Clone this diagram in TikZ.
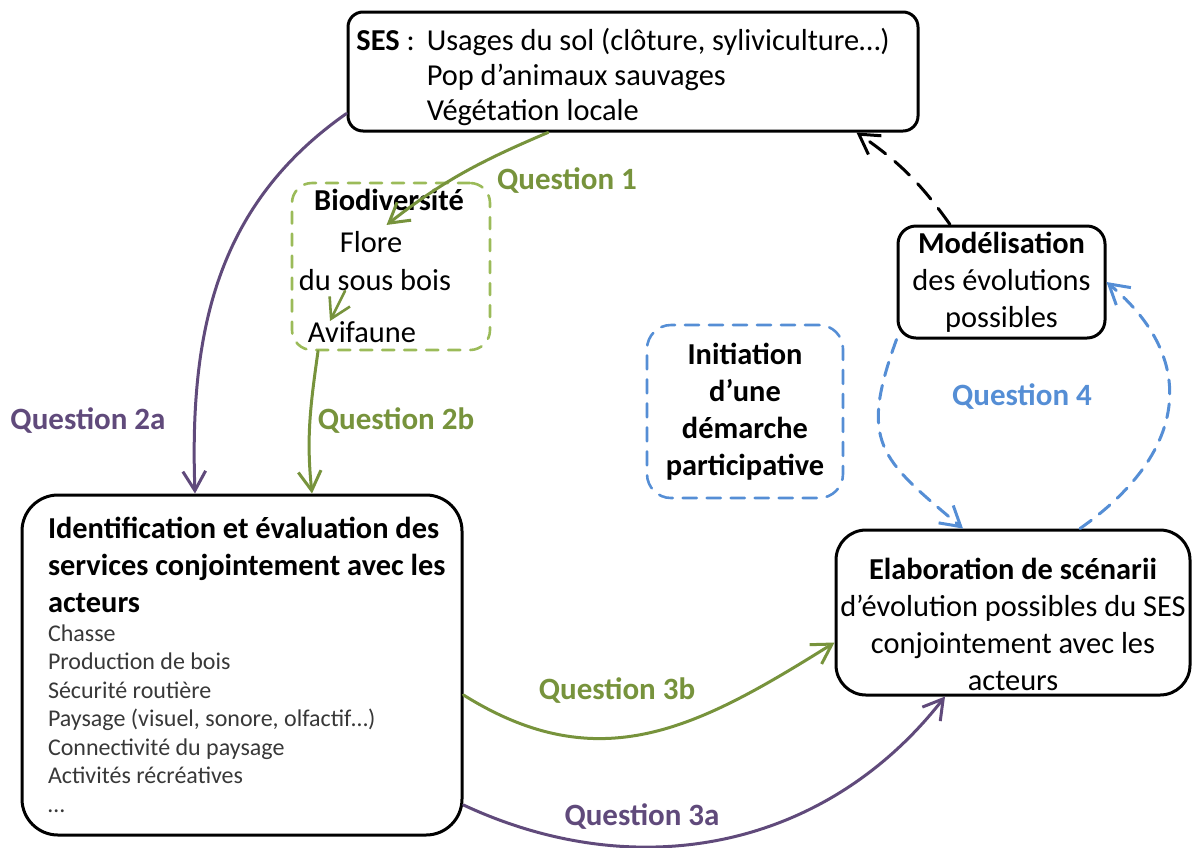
\documentclass[tikz,border=0pt]{standalone}
\usepackage{fontspec}
\setmainfont{Carlito}
\usepackage{xcolor}
\usepackage{tikz}
\usetikzlibrary{arrows.meta,positioning}
\definecolor{qgreen}{HTML}{77933C}
\definecolor{qpurple}{HTML}{604A7B}
\definecolor{qblue}{HTML}{558ED5}
\definecolor{biogreen}{HTML}{9BBB59}
\definecolor{itemgray}{HTML}{383838}
\tikzset{
    every picture/.style={line cap=round,line join=round},
    mainbox/.style={draw=black,line width=1.5pt,rounded corners=8pt,inner sep=0pt,
      align=center,font=\fontsize{15.2}{18.5}\selectfont},
    dashbox/.style={line width=1.3pt,rounded corners=10pt,inner sep=0pt,
      dash pattern=on 6pt off 5pt},
    boxtext/.style={inner sep=0pt,font=\fontsize{15.2}{18.5}\selectfont},
    qarrow/.style={-{Straight Barb[length=3.4mm,width=4mm]},line width=1.5pt},
    bluedash/.style={dash pattern=on 7pt off 5pt},
    qlabel/.style={inner sep=0pt,font=\fontsize{15.5}{18}\selectfont\bfseries}
}

\begin{document}
\begin{tikzpicture}[x=0.5pt,y=0.5pt]
  \useasboundingbox (0,0) rectangle (1197,-847);
  % boxes
  \node[mainbox,minimum width=285pt,minimum height=59.5pt,rounded corners=7.5pt] (ses) at (633,-71.5)
    {\fontsize{15.2}{17.5}\selectfont\begin{tabular}{@{}l@{\hspace{6pt}}l@{\hspace{10pt}}}
      \rule{0pt}{19pt}\textbf{SES} : & Usages du sol (clôture, syliviculture…)\\
      & Pop d’animaux sauvages\\
      & Végétation locale
    \end{tabular}};
  \node[dashbox,draw=biogreen,minimum width=99pt,minimum height=83.5pt] (bio) at (391,-266.5) {};
  \node[boxtext,font=\fontsize{15.2}{18.5}\selectfont\bfseries] (biotitle) at (389,-200) {Biodiversité};
  \node[boxtext] (flore) at (371,-242) {Flore};
  \node[boxtext] (sousbois) at (375,-280) {du sous bois};
  \node[boxtext] (avifaune) at (362,-332) {Avifaune};
  \node[mainbox,minimum width=220pt,minimum height=170pt,rounded corners=18pt,
    text width=206pt,align=left] (ident) at (242,-665)
    {\raggedright\spaceskip=0pt\xspaceskip=0pt\leftskip=6pt
     \bfseries Identification et évaluation des\\ services conjointement avec les\\ acteurs\par
     \fontsize{12}{14.25}\selectfont\mdseries\color{itemgray}
     Chasse\\ Production de bois\\ Sécurité routière\\ Paysage (visuel, sonore, olfactif…)\\
     Connectivité du paysage\\ Activités récréatives\\ …\par};
  \node[mainbox,minimum width=177pt,minimum height=82.5pt,rounded corners=15pt] (elab) at (1013,-612.5)
    {\rule{0pt}{23pt}\textbf{Elaboration de scénarii}\\ d’évolution possibles du SES\\ conjointement avec les\\ acteurs};
  \node[mainbox,minimum width=103.5pt,minimum height=56pt,rounded corners=9pt] (model) at (1001.5,-282)
    {\textbf{Modélisation}\\ des évolutions\\ possibles};
  \node[dashbox,bluedash,draw=qblue,minimum width=98pt,minimum height=86.5pt,rounded corners=12pt,
    align=center,font=\fontsize{15.2}{18.5}\selectfont\bfseries] (init) at (745,-411.5)
    {Initiation\\ d’une\\ démarche\\ participative};
  % labels
  \node[qlabel,text=qgreen] (q1) at (567,-181) {Question 1};
  \node[qlabel,text=qpurple] (q2a) at (88,-421) {Question 2a};
  \node[qlabel,text=qgreen] (q2b) at (396,-421) {Question 2b};
  \node[qlabel,text=qgreen] (q3b) at (617,-691) {Question 3b};
  \node[qlabel,text=qpurple] (q3a) at (642,-817) {Question 3a};
  \node[qlabel,text=qblue] (q4) at (1022,-397) {Question 4};
  % connectors
  \draw[qarrow,qgreen] ([xshift=-42.5pt]ses.south) to[out=203,in=38] ([xshift=-8pt,yshift=3pt]flore.north east);
  \draw[qarrow,qgreen,line width=1.3pt] ([xshift=-15pt]sousbois.south) -- ([xshift=-16pt]avifaune.north);
  \draw[qarrow,qpurple] ([yshift=-21pt]ses.west) to[out=215,in=92] ([xshift=-23.5pt]ident.north);
  \draw[qarrow,qgreen] ([xshift=-36.5pt]bio.south) to[out=262,in=96] ([xshift=35pt]ident.north);
  \draw[qarrow,qgreen] ([yshift=-15pt]ident.east) to[out=-32,in=212,looseness=1.1] ([yshift=-15pt]elab.west);
  \draw[qarrow,qpurple] ([yshift=-70pt]ident.east) to[out=-25,in=232] ([xshift=-34pt]elab.south);
  \draw[qarrow,qblue,bluedash] (model.south west) to[out=250,in=140,looseness=1.4] ([xshift=-25pt]elab.north);
  \draw[qarrow,qblue,bluedash] ([xshift=33.5pt]elab.north) to[out=35,in=-40,looseness=1.3] (model.east);
  \draw[qarrow,black,dash pattern=on 10pt off 6pt] ([xshift=-25.75pt]model.north) to[bend right=10] ([xshift=-31.5pt]ses.south east);
\end{tikzpicture}
\end{document}
